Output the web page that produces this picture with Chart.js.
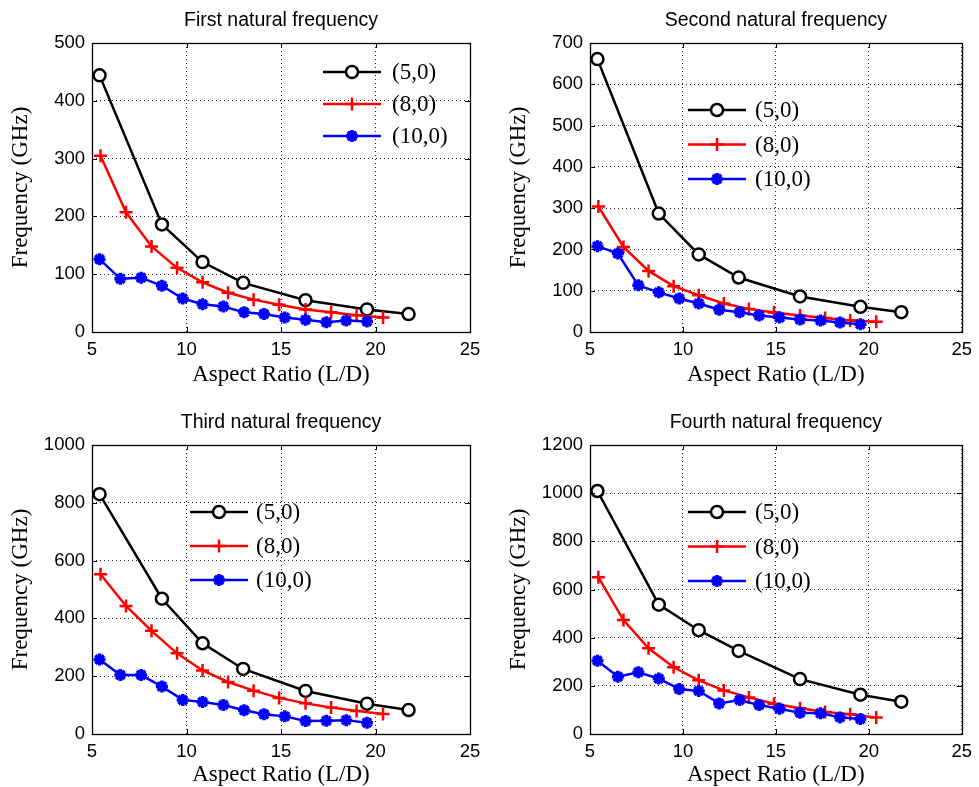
<!DOCTYPE html>
<html>
<head>
<meta charset="utf-8">
<script src="https://cdn.jsdelivr.net/npm/chart.js@4.4.1/dist/chart.umd.min.js"></script>
<style>
  html, body { margin: 0; padding: 0; background: #fff; }
  #wrap { position: relative; width: 979px; height: 787px; overflow: hidden; }
  canvas { position: absolute; }
</style>
</head>
<body>
<div id="wrap">
  <canvas id="c1" width="490" height="394" style="left:0;top:0"></canvas>
  <canvas id="c2" width="489" height="394" style="left:490px;top:0"></canvas>
  <canvas id="c3" width="490" height="393" style="left:0;top:394px"></canvas>
  <canvas id="c4" width="489" height="393" style="left:490px;top:394px"></canvas>
</div>
<script>
// series names and aspect ratios (L/D) of each tube
const seriesNames = ['(5,0)', '(8,0)', '(10,0)'];
const ratio5 = [5.4, 8.7, 10.85, 13.0, 16.3, 19.55, 21.75];
const ratio8 = [5.45, 6.8, 8.15, 9.5, 10.85, 12.2, 13.55, 14.9, 16.3, 17.65, 19.0, 20.4];
const ratio10 = [5.4, 6.5, 7.6, 8.7, 9.8, 10.85, 11.95, 13.05, 14.1, 15.2, 16.3, 17.4, 18.45, 19.55];

// frequencies (GHz)
const first5 = [444, 186, 121, 85, 55, 39, 31];
const first8 = [305, 207, 148, 111, 86, 68, 56, 47, 39, 34, 29, 25];
const first10 = [126, 92, 94, 80, 58, 48, 44, 34, 31, 25, 21, 17, 20, 18];

const second5 = [661, 287, 188, 132, 86, 61, 48];
const second8 = [304, 206, 148, 111, 89, 69, 56, 47, 40, 34, 28, 25];
const second10 = [208, 190, 113, 96, 81, 69, 54, 48, 40, 35, 30, 28, 23, 19];

const third5 = [830, 468, 314, 225, 149, 105, 83];
const third8 = [553, 443, 357, 279, 220, 180, 150, 125, 106, 92, 80, 69];
const third10 = [258, 204, 204, 164, 118, 111, 100, 82, 68, 61, 45, 46, 48, 39];

const fourth5 = [1009, 537, 431, 345, 228, 163, 134];
const fourth8 = [651, 473, 356, 277, 223, 181, 152, 126, 107, 91, 82, 68];
const fourth10 = [304, 238, 256, 230, 187, 179, 127, 141, 120, 105, 88, 86, 69, 62];

// tick labels
const xTicks = [5, 10, 15, 20, 25];
const yTicks1 = [0, 100, 200, 300, 400, 500];
const yTicks2 = [0, 100, 200, 300, 400, 500, 600, 700];
const yTicks3 = [0, 200, 400, 600, 800, 1000];
const yTicks4 = [0, 200, 400, 600, 800, 1000, 1200];

const sans = "'Liberation Sans', Arial, Helvetica, sans-serif";
const serif = "'Liberation Serif', 'Times New Roman', serif";

const styles = [
  { color: '#000000', pointStyle: 'circle', radius: 6, pw: 2.5, fill: '#ffffff', order: 3 },
  { color: '#ff0000', pointStyle: 'cross', radius: 6.5, pw: 2.5, fill: '#ff0000', order: 2 },
  { color: '#0000ff', pointStyle: 'star', radius: 6, pw: 3.5, fill: '#0000ff', order: 1 }
];

function drawMarker(ctx, st, x, y) {
  ctx.strokeStyle = st.color;
  ctx.fillStyle = st.fill;
  ctx.lineWidth = st.pw;
  Chart.helpers.drawPoint(ctx, { pointStyle: st.pointStyle, radius: st.radius, borderWidth: st.pw, rotation: 0 }, x, y);
}

// box, tick marks and in-axes legend
const framePlugin = {
  id: 'frame',
  afterDraw(chart, args, opts) {
    const { ctx, chartArea: a, scales } = chart;
    ctx.save();
    ctx.strokeStyle = '#000';
    ctx.lineWidth = 1;
    ctx.setLineDash([]);
    ctx.beginPath();
    scales.x.ticks.forEach(t => {
      const px = Math.round(scales.x.getPixelForValue(t.value)) + 0.5;
      ctx.moveTo(px, a.bottom); ctx.lineTo(px, a.bottom - 5);
      ctx.moveTo(px, a.top); ctx.lineTo(px, a.top + 5);
    });
    scales.y.ticks.forEach(t => {
      const py = Math.round(scales.y.getPixelForValue(t.value)) + 0.5;
      ctx.moveTo(a.left, py); ctx.lineTo(a.left + 5, py);
      ctx.moveTo(a.right, py); ctx.lineTo(a.right - 5, py);
    });
    ctx.stroke();
    ctx.lineWidth = 1.3;
    ctx.strokeRect(Math.round(a.left) + 0.5, Math.round(a.top) + 0.5, Math.round(a.width), Math.round(a.height));

    // legend
    chart.data.datasets.forEach((ds, i) => {
      const st = styles[i];
      const y = a.top + opts.y + i * opts.gap;
      const x0 = a.left + opts.x;
      ctx.strokeStyle = st.color;
      ctx.lineWidth = 2.5;
      ctx.beginPath();
      ctx.moveTo(x0, y); ctx.lineTo(x0 + 58, y);
      ctx.stroke();
      drawMarker(ctx, st, x0 + 29, y);
      ctx.fillStyle = '#000';
      ctx.font = '23px ' + serif;
      ctx.textBaseline = 'middle';
      ctx.textAlign = 'left';
      ctx.fillText(ds.label, x0 + opts.textGap, y + 1);
    });
    ctx.restore();
  }
};

function makeChart(id, title, ys, yTicks, box, legendAt) {
  const canvas = document.getElementById(id);
  const W = canvas.width, H = canvas.height;
  const xs = [ratio5, ratio8, ratio10];
  return new Chart(canvas, {
    type: 'line',
    plugins: [framePlugin],
    data: {
      datasets: ys.map((vals, i) => ({
        label: seriesNames[i],
        data: vals.map((v, j) => ({ x: xs[i][j], y: v })),
        borderColor: styles[i].color,
        backgroundColor: styles[i].fill,
        borderWidth: 2.5,
        tension: 0,
        order: styles[i].order,
        pointStyle: styles[i].pointStyle,
        pointRadius: styles[i].radius,
        pointBorderWidth: styles[i].pw,
        pointBorderColor: styles[i].color,
        pointBackgroundColor: styles[i].fill,
        clip: false
      }))
    },
    options: {
      responsive: false,
      animation: false,
      events: [],
      layout: { padding: { left: 0, top: 0, right: W - box.right, bottom: 0 } },
      plugins: {
        legend: { display: false },
        tooltip: { enabled: false },
        title: {
          display: true,
          text: title,
          fullSize: false,
          color: '#000',
          font: { family: sans, size: 19.5, weight: 'normal', lineHeight: 1.2 },
          padding: { top: box.titleY - 11.7, bottom: box.top - box.titleY - 11.7 }
        },
        frame: legendAt
      },
      scales: {
        x: {
          type: 'linear',
          min: xTicks[0],
          max: xTicks[xTicks.length - 1],
          afterBuildTicks: s => { s.ticks = xTicks.map(v => ({ value: v })); },
          afterFit: s => { s.height = H - box.bottom; },
          grid: { color: '#222', drawTicks: false, lineWidth: 1 },
          border: { display: false, dash: [1, 3] },
          ticks: { color: '#000', padding: 7, font: { family: sans, size: 18.5 }, maxRotation: 0, callback: v => String(v) },
          title: {
            display: true, text: 'Aspect Ratio (L/D)', color: '#000',
            font: { family: serif, size: 23, lineHeight: 1 },
            padding: { top: 0, bottom: box.xTitle }
          }
        },
        y: {
          type: 'linear',
          min: yTicks[0],
          max: yTicks[yTicks.length - 1],
          afterBuildTicks: s => { s.ticks = yTicks.map(v => ({ value: v })); },
          afterFit: s => { s.width = box.left; },
          grid: { color: '#222', drawTicks: false, lineWidth: 1 },
          border: { display: false, dash: [1, 3] },
          ticks: { color: '#000', padding: 7, font: { family: sans, size: 18.5 }, callback: v => String(v) },
          title: {
            display: true, text: 'Frequency (GHz)', color: '#000',
            font: { family: serif, size: 23, lineHeight: 1 },
            padding: { top: box.yTitle, bottom: 0 }
          }
        }
      }
    }
  });
}

makeChart('c1', 'First natural frequency', [first5, first8, first10], yTicks1,
  { left: 92, right: 470, top: 43, bottom: 332, titleY: 21, xTitle: 7.5, yTitle: 9.5 },
  { x: 231, y: 29, gap: 32, textGap: 69 });
makeChart('c2', 'Second natural frequency', [second5, second8, second10], yTicks2,
  { left: 100, right: 478, top: 43, bottom: 332, titleY: 21, xTitle: 7.5, yTitle: 17.5 },
  { x: 98, y: 67, gap: 34.5, textGap: 67 });
makeChart('c3', 'Third natural frequency', [third5, third8, third10], yTicks3,
  { left: 92, right: 470, top: 51, bottom: 340, titleY: 29, xTitle: 0.5, yTitle: 9.5 },
  { x: 98, y: 67, gap: 34, textGap: 66 });
makeChart('c4', 'Fourth natural frequency', [fourth5, fourth8, fourth10], yTicks4,
  { left: 100, right: 478, top: 51, bottom: 340, titleY: 29, xTitle: 0.5, yTitle: 17.5 },
  { x: 98, y: 67, gap: 34.5, textGap: 67 });
</script>
</body>
</html>
